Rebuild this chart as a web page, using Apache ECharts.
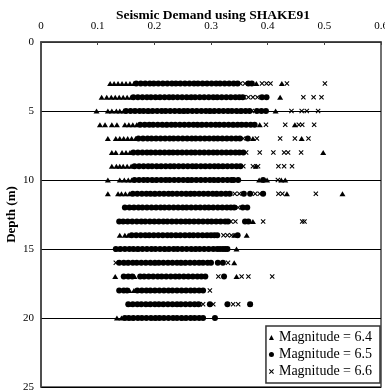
<!DOCTYPE html>
<html><head><meta charset="utf-8">
<script src="https://cdn.jsdelivr.net/npm/echarts@6/dist/echarts.min.js"></script>
<style>html,body{margin:0;padding:0;background:#fff}#c{width:385px;height:392px}</style>
</head><body><div id="c"></div>
<script>
const title = 'Seismic Demand using SHAKE91';
const yName = 'Depth (m)';
const seriesNames = ['Magnitude = 6.4', 'Magnitude = 6.5', 'Magnitude = 6.6'];
const xTicks = [0, 0.1, 0.2, 0.3, 0.4, 0.5, 0.6];
const yTicks = [0, 5, 10, 15, 20, 25];
const depths = [3,4,5,6,7,8,9,10,11,12,13,14,15,16,17,18,19,20];

// Seismic demand values per depth row, magnitude 6.4
const m64 = [
 [0.122,0.129,0.136,0.143,0.15,0.157,0.164,0.196,0.243,0.289,0.38,0.425],
 [0.107,0.116,0.124,0.131,0.138,0.145,0.152,0.159,0.205,0.262,0.31,0.422],
 [0.098,0.118,0.125,0.133,0.139,0.146,0.19,0.25,0.3,0.35,0.414],
 [0.104,0.113,0.125,0.134,0.148,0.155,0.162,0.169,0.22,0.28,0.34,0.386,0.448],
 [0.118,0.132,0.139,0.146,0.153,0.16,0.167,0.2,0.26,0.32,0.374,0.46],
 [0.125,0.132,0.143,0.15,0.157,0.21,0.27,0.33,0.498],
 [0.125,0.133,0.139,0.145,0.152,0.159,0.21,0.27,0.32,0.379],
 [0.118,0.139,0.147,0.154,0.16,0.2,0.26,0.31,0.385,0.399,0.424,0.431],
 [0.118,0.136,0.142,0.149,0.156,0.2,0.26,0.31,0.434,0.532],
 [0.16,0.2,0.25,0.3],
 [0.15,0.2,0.25,0.3,0.374],
 [0.139,0.148,0.154,0.19,0.24,0.29,0.341,0.363],
 [0.134,0.17,0.22,0.27,0.345],
 [0.15,0.2,0.25,0.341],
 [0.131,0.165,0.21,0.26,0.345],
 [0.156,0.164,0.172,0.2,0.25],
 [0.156,0.19,0.24],
 [0.134,0.142,0.16,0.2,0.25]
];
// magnitude 6.5
const m65 = [
 [0.168,0.176,0.184,0.192,0.199,0.207,0.215,0.223,0.231,0.238,0.246,0.254,0.262,0.27,0.277,0.285,0.293,0.301,0.309,0.316,0.324,0.332,0.34,0.347,0.366,0.372],
 [0.163,0.171,0.179,0.187,0.194,0.202,0.21,0.218,0.226,0.233,0.241,0.249,0.257,0.265,0.272,0.28,0.288,0.296,0.304,0.311,0.319,0.327,0.335,0.343,0.35,0.356,0.39,0.398],
 [0.15,0.158,0.166,0.174,0.181,0.189,0.197,0.205,0.213,0.22,0.228,0.236,0.244,0.252,0.259,0.267,0.275,0.283,0.291,0.298,0.306,0.314,0.322,0.33,0.337,0.345,0.353,0.361,0.368,0.381,0.389,0.397],
 [0.175,0.183,0.191,0.198,0.206,0.214,0.222,0.23,0.237,0.245,0.253,0.261,0.269,0.276,0.284,0.292,0.3,0.308,0.315,0.323,0.331,0.339,0.347,0.354,0.362,0.37,0.377],
 [0.172,0.18,0.188,0.195,0.203,0.211,0.219,0.227,0.234,0.242,0.25,0.258,0.266,0.273,0.281,0.289,0.297,0.305,0.312,0.32,0.328,0.336,0.344,0.351,0.365],
 [0.163,0.171,0.179,0.187,0.194,0.202,0.21,0.218,0.226,0.233,0.241,0.249,0.257,0.265,0.272,0.28,0.288,0.296,0.304,0.311,0.319,0.327,0.335,0.343,0.35,0.357],
 [0.165,0.173,0.181,0.189,0.196,0.204,0.212,0.22,0.228,0.235,0.243,0.251,0.259,0.267,0.274,0.282,0.29,0.298,0.306,0.313,0.321,0.329,0.337,0.345,0.352],
 [0.165,0.173,0.181,0.188,0.196,0.204,0.212,0.22,0.227,0.235,0.243,0.251,0.259,0.266,0.274,0.282,0.29,0.298,0.305,0.313,0.321,0.329,0.336,0.34,0.348,0.392],
 [0.162,0.17,0.178,0.186,0.193,0.201,0.209,0.217,0.225,0.232,0.24,0.248,0.256,0.264,0.271,0.279,0.287,0.295,0.303,0.31,0.318,0.326,0.333,0.358,0.369,0.392],
 [0.148,0.156,0.164,0.172,0.179,0.187,0.195,0.203,0.211,0.218,0.226,0.234,0.242,0.25,0.257,0.265,0.273,0.281,0.289,0.296,0.304,0.312,0.32,0.328,0.335,0.341,0.356,0.364],
 [0.138,0.145,0.153,0.161,0.169,0.177,0.184,0.192,0.2,0.208,0.216,0.223,0.231,0.239,0.247,0.255,0.262,0.27,0.278,0.286,0.294,0.301,0.309,0.317,0.325,0.33,0.36,0.366],
 [0.16,0.168,0.176,0.184,0.191,0.199,0.207,0.215,0.223,0.23,0.238,0.246,0.254,0.262,0.269,0.277,0.285,0.293,0.3,0.306,0.311,0.347],
 [0.132,0.14,0.148,0.156,0.163,0.171,0.179,0.187,0.195,0.202,0.21,0.218,0.226,0.234,0.241,0.249,0.257,0.265,0.273,0.28,0.288,0.296,0.304,0.311,0.316,0.321,0.325,0.329],
 [0.138,0.146,0.154,0.162,0.169,0.177,0.185,0.193,0.201,0.208,0.216,0.224,0.232,0.24,0.247,0.255,0.263,0.271,0.279,0.286,0.294,0.3,0.312,0.321],
 [0.146,0.154,0.161,0.175,0.182,0.19,0.198,0.206,0.213,0.221,0.229,0.237,0.244,0.252,0.26,0.268,0.276,0.283,0.29,0.323],
 [0.138,0.146,0.152,0.17,0.178,0.186,0.193,0.201,0.209,0.217,0.225,0.232,0.24,0.248,0.256,0.264,0.271,0.279,0.286],
 [0.154,0.162,0.17,0.177,0.185,0.193,0.201,0.208,0.216,0.224,0.232,0.24,0.247,0.255,0.263,0.271,0.278,0.298,0.329,0.369],
 [0.148,0.155,0.163,0.171,0.178,0.186,0.194,0.202,0.209,0.217,0.225,0.233,0.24,0.248,0.256,0.264,0.271,0.279,0.286,0.307]
];
// magnitude 6.6
const m66 = [
 [0.18,0.22,0.266,0.305,0.336,0.352,0.36,0.39,0.398,0.405,0.434,0.501],
 [0.175,0.23,0.285,0.33,0.358,0.366,0.374,0.382,0.463,0.481,0.495],
 [0.16,0.215,0.27,0.325,0.358,0.372,0.442,0.46,0.469,0.489],
 [0.19,0.25,0.31,0.36,0.374,0.397,0.431,0.455,0.461,0.482],
 [0.23,0.29,0.34,0.357,0.381,0.422,0.448,0.472],
 [0.24,0.3,0.345,0.362,0.386,0.41,0.429,0.436,0.459],
 [0.23,0.29,0.34,0.357,0.374,0.383,0.419,0.429,0.443],
 [0.22,0.28,0.325,0.344,0.418],
 [0.23,0.29,0.33,0.342,0.35,0.378,0.386,0.419,0.426,0.485],
 [0.22,0.28,0.32,0.337,0.348],
 [0.22,0.27,0.31,0.335,0.343,0.392,0.461,0.465],
 [0.21,0.26,0.3,0.322,0.329,0.336],
 [0.19,0.24,0.29,0.31],
 [0.132,0.18,0.23,0.28,0.297,0.33],
 [0.19,0.24,0.28,0.313,0.354,0.366,0.408],
 [0.19,0.235,0.275,0.283,0.298],
 [0.21,0.26,0.28,0.286,0.304,0.339,0.348,0.369],
 [0.21,0.26,0.277]
];

function pairs(rows) {
  const out = [];
  rows.forEach((row, i) => row.forEach(v => out.push([v, depths[i]])));
  return out;
}
const crossPath = 'path://M0,1.5L1.5,0L5,3.5L8.5,0L10,1.5L6.5,5L10,8.5L8.5,10L5,6.5L1.5,10L0,8.5L3.5,5Z';
const serif = '"Liberation Serif", "Times New Roman", serif';

const chart = echarts.init(document.getElementById('c'), null, {renderer: 'canvas'});
chart.setOption({
  animation: false,
  backgroundColor: '#fff',
  title: {
    text: title, left: 111, top: 4,
    textStyle: {fontFamily: serif, fontSize: 13.5, fontWeight: 'bold', color: '#000'}
  },
  legend: {
    orient: 'vertical', right: 5, bottom: 9,
    backgroundColor: '#fff', borderColor: '#333', borderWidth: 1.5,
    padding: [3, 8, 3, 3], itemGap: 0, itemWidth: 5, itemHeight: 5,
    textStyle: {fontFamily: serif, fontSize: 14, lineHeight: 17, color: '#000'},
    data: [
      {name: seriesNames[0], icon: 'triangle'},
      {name: seriesNames[1], icon: 'circle'},
      {name: seriesNames[2], icon: crossPath}
    ]
  },
  grid: {left: 41, right: 4, top: 42, bottom: 5, containLabel: false, outerBoundsMode: 'none',
    show: true, borderColor: '#444', borderWidth: 1.5, backgroundColor: '#fff'},
  xAxis: {
    type: 'value', position: 'top', min: xTicks[0], max: xTicks[xTicks.length - 1], interval: 0.1,
    axisLine: {show: true, lineStyle: {color: '#444', width: 1.5}},
    axisTick: {show: true, inside: true, length: 3, lineStyle: {color: '#444'}},
    splitLine: {show: false},
    axisLabel: {fontFamily: serif, fontSize: 11, color: '#000', margin: 10, formatter: v => String(+v.toFixed(1))}
  },
  yAxis: {
    type: 'value', inverse: true, min: yTicks[0], max: yTicks[yTicks.length - 1], interval: 5,
    name: yName, nameLocation: 'middle', nameGap: 23, nameRotate: 90, nameMoveOverlap: false,
    nameTextStyle: {fontFamily: serif, fontSize: 13, fontWeight: 'bold', color: '#000'},
    axisLine: {show: true, lineStyle: {color: '#444', width: 1.5}},
    axisTick: {show: false},
    splitLine: {show: true, lineStyle: {color: '#000', width: 1}},
    axisLabel: {fontFamily: serif, fontSize: 11, color: '#000', margin: 7}
  },
  series: [
    {name: seriesNames[0], type: 'scatter', symbol: 'triangle', symbolSize: [6, 5], itemStyle: {color: '#000', opacity: 1}, data: pairs(m64)},
    {name: seriesNames[1], type: 'scatter', symbol: 'circle', symbolSize: 6, itemStyle: {color: '#000', opacity: 1}, data: pairs(m65)},
    {name: seriesNames[2], type: 'scatter', symbol: crossPath, symbolSize: 5, itemStyle: {color: '#000', opacity: 1}, data: pairs(m66)}
  ]
});
</script>
</body></html>
